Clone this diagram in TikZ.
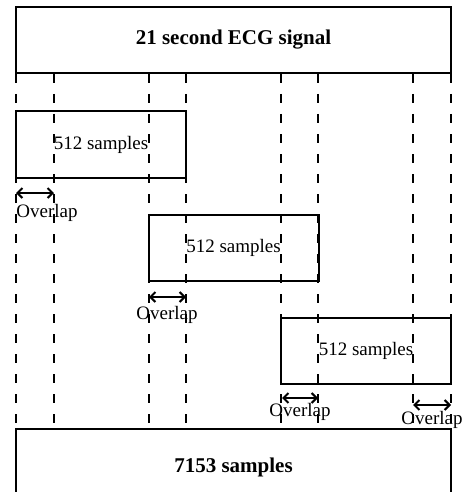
\documentclass[tikz,border=0pt]{standalone}
\usepackage{fontspec}
\setmainfont{Liberation Serif}
\usetikzlibrary{arrows.meta,positioning,calc}

\begin{document}
\begin{tikzpicture}[x=1pt, y=-1pt,
  bigbox/.style={draw, line width=2pt, minimum width=435pt, inner sep=0pt,
    font=\fontsize{21}{23}\selectfont\bfseries},
  winbox/.style={draw, line width=2pt, minimum width=170pt, minimum height=66pt,
    inner sep=0pt, font=\fontsize{19}{21}\selectfont},
  guide/.style={line width=2pt, dash pattern=on 9pt off 11pt},
  ovl/.style={{Straight Barb[length=5pt,width=10pt]}-{Straight Barb[length=5pt,width=10pt]}, line width=2pt},
  ovltext/.style={font=\fontsize{19}{21}\selectfont, inner sep=0pt}
]
  \useasboundingbox (0,0) rectangle (463,492);
  \clip (0,0) rectangle (463,492);

  % Signal and total
  \node[bigbox, minimum height=66pt] (signal) at (233.5,40) {21 second ECG signal};
  \node[bigbox, minimum height=76pt] (total) at (233.5,467) {7153 samples};

  % Window edges
  \foreach \x in {16,54,149,186,281,318,413,451}
    \draw[guide] (\x,0 |- signal.south) -- (\x,0 |- total.north);

  % Windows
  \node[winbox] (win1) at (101,144.5) {512 samples};
  \node[winbox] (win2) at (233.5,247.5) {512 samples};
  \node[winbox] (win3) at (366,350.5) {512 samples};

  % Overlaps
  \coordinate (o1a) at (16,193);  \coordinate (o1b) at (54,193);
  \coordinate (o2a) at (149,297); \coordinate (o2b) at (186,297);
  \coordinate (o3a) at (282,398); \coordinate (o3b) at (318,398);
  \coordinate (o4a) at (413,405); \coordinate (o4b) at (451,405);
  \draw[ovl] (o1a) -- (o1b);
  \draw[ovl] (o2a) -- (o2b);
  \draw[ovl] (o3a) -- (o3b);
  \draw[ovl] (o4a) -- (o4b);
  \node[ovltext] (l1) at (47,213) {Overlap};
  \node[ovltext] (l2) at (167,315) {Overlap};
  \node[ovltext] (l3) at (300,412) {Overlap};
  \node[ovltext] (l4) at (432,420) {Overlap};
\end{tikzpicture}
\end{document}
